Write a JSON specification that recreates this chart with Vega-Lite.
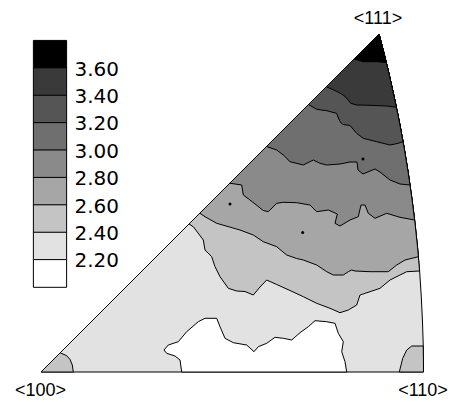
{
  "$schema": "https://vega.github.io/schema/vega-lite/v6.json",
  "width": 451,
  "height": 406,
  "padding": 0,
  "autosize": {"type": "none"},
  "background": "white",
  "config": {"view": {"stroke": null}},
  "datasets": {
    "poly": [
      {"p":"base","lvl":"2.20","i":0,"X":0,"Y":0},
      {"p":"base","lvl":"2.20","i":1,"X":382.5,"Y":0},
      {"p":"base","lvl":"2.20","i":2,"X":382.3,"Y":25},
      {"p":"base","lvl":"2.20","i":3,"X":381.5,"Y":50},
      {"p":"base","lvl":"2.20","i":4,"X":380.3,"Y":75},
      {"p":"base","lvl":"2.20","i":5,"X":378.7,"Y":100},
      {"p":"base","lvl":"2.20","i":6,"X":376.5,"Y":125},
      {"p":"base","lvl":"2.20","i":7,"X":373.9,"Y":150},
      {"p":"base","lvl":"2.20","i":8,"X":370.7,"Y":175},
      {"p":"base","lvl":"2.20","i":9,"X":367.1,"Y":200},
      {"p":"base","lvl":"2.20","i":10,"X":363,"Y":225},
      {"p":"base","lvl":"2.20","i":11,"X":358.4,"Y":250},
      {"p":"base","lvl":"2.20","i":12,"X":353.2,"Y":275},
      {"p":"base","lvl":"2.20","i":13,"X":347.6,"Y":300},
      {"p":"base","lvl":"2.20","i":14,"X":342.7,"Y":320},
      {"p":"base","lvl":"2.20","i":15,"X":338,"Y":338},
      {"p":"base","lvl":"2.20","i":16,"X":0,"Y":0},

      {"p":"c24","lvl":"2.40","i":0,"X":148,"Y":148},
      {"p":"c24","lvl":"2.40","i":1,"X":152.3,"Y":145.3},
      {"p":"c24","lvl":"2.40","i":2,"X":162.3,"Y":132},
      {"p":"c24","lvl":"2.40","i":3,"X":164,"Y":122},
      {"p":"c24","lvl":"2.40","i":4,"X":170.7,"Y":115.3},
      {"p":"c24","lvl":"2.40","i":5,"X":174,"Y":105.3},
      {"p":"c24","lvl":"2.40","i":6,"X":179,"Y":95.3},
      {"p":"c24","lvl":"2.40","i":7,"X":187.3,"Y":83.7},
      {"p":"c24","lvl":"2.40","i":8,"X":195.7,"Y":81},
      {"p":"c24","lvl":"2.40","i":9,"X":204,"Y":80.5},
      {"p":"c24","lvl":"2.40","i":10,"X":212.3,"Y":77},
      {"p":"c24","lvl":"2.40","i":11,"X":219,"Y":85},
      {"p":"c24","lvl":"2.40","i":12,"X":225.7,"Y":92},
      {"p":"c24","lvl":"2.40","i":13,"X":235.7,"Y":87.5},
      {"p":"c24","lvl":"2.40","i":14,"X":249,"Y":81.5},
      {"p":"c24","lvl":"2.40","i":15,"X":262.3,"Y":75.3},
      {"p":"c24","lvl":"2.40","i":16,"X":275.7,"Y":68.7},
      {"p":"c24","lvl":"2.40","i":17,"X":289,"Y":63.7},
      {"p":"c24","lvl":"2.40","i":18,"X":299,"Y":59.3},
      {"p":"c24","lvl":"2.40","i":19,"X":307.3,"Y":62},
      {"p":"c24","lvl":"2.40","i":20,"X":315.7,"Y":67},
      {"p":"c24","lvl":"2.40","i":21,"X":319,"Y":77},
      {"p":"c24","lvl":"2.40","i":22,"X":329,"Y":80.3},
      {"p":"c24","lvl":"2.40","i":23,"X":339,"Y":83.7},
      {"p":"c24","lvl":"2.40","i":24,"X":349,"Y":92},
      {"p":"c24","lvl":"2.40","i":25,"X":359,"Y":97},
      {"p":"c24","lvl":"2.40","i":26,"X":365.7,"Y":100.3},
      {"p":"c24","lvl":"2.40","i":27,"X":378.6,"Y":101},
      {"p":"c24","lvl":"2.40","i":28,"X":376.5,"Y":125},
      {"p":"c24","lvl":"2.40","i":29,"X":373.9,"Y":150},
      {"p":"c24","lvl":"2.40","i":30,"X":370.7,"Y":175},
      {"p":"c24","lvl":"2.40","i":31,"X":367.1,"Y":200},
      {"p":"c24","lvl":"2.40","i":32,"X":363,"Y":225},
      {"p":"c24","lvl":"2.40","i":33,"X":358.4,"Y":250},
      {"p":"c24","lvl":"2.40","i":34,"X":353.2,"Y":275},
      {"p":"c24","lvl":"2.40","i":35,"X":347.6,"Y":300},
      {"p":"c24","lvl":"2.40","i":36,"X":342.7,"Y":320},
      {"p":"c24","lvl":"2.40","i":37,"X":338,"Y":338},
      {"p":"c24","lvl":"2.40","i":38,"X":148,"Y":148},

      {"p":"c26","lvl":"2.60","i":0,"X":158.8,"Y":158.8},
      {"p":"c26","lvl":"2.60","i":1,"X":164,"Y":155.3},
      {"p":"c26","lvl":"2.60","i":2,"X":175.7,"Y":148.7},
      {"p":"c26","lvl":"2.60","i":3,"X":199,"Y":142},
      {"p":"c26","lvl":"2.60","i":4,"X":212.3,"Y":137},
      {"p":"c26","lvl":"2.60","i":5,"X":222.3,"Y":130.3},
      {"p":"c26","lvl":"2.60","i":6,"X":235.7,"Y":125.3},
      {"p":"c26","lvl":"2.60","i":7,"X":245.7,"Y":117},
      {"p":"c26","lvl":"2.60","i":8,"X":255.7,"Y":113.5},
      {"p":"c26","lvl":"2.60","i":9,"X":262.3,"Y":112},
      {"p":"c26","lvl":"2.60","i":10,"X":275.7,"Y":107},
      {"p":"c26","lvl":"2.60","i":11,"X":285.7,"Y":100.3},
      {"p":"c26","lvl":"2.60","i":12,"X":292.3,"Y":97},
      {"p":"c26","lvl":"2.60","i":13,"X":302.3,"Y":97},
      {"p":"c26","lvl":"2.60","i":14,"X":307.3,"Y":100.3},
      {"p":"c26","lvl":"2.60","i":15,"X":310.7,"Y":102},
      {"p":"c26","lvl":"2.60","i":16,"X":314,"Y":101},
      {"p":"c26","lvl":"2.60","i":17,"X":329,"Y":100.3},
      {"p":"c26","lvl":"2.60","i":18,"X":347.3,"Y":100.3},
      {"p":"c26","lvl":"2.60","i":19,"X":355.7,"Y":107},
      {"p":"c26","lvl":"2.60","i":20,"X":364,"Y":112},
      {"p":"c26","lvl":"2.60","i":21,"X":377.4,"Y":115.3},
      {"p":"c26","lvl":"2.60","i":22,"X":376.5,"Y":125},
      {"p":"c26","lvl":"2.60","i":23,"X":373.9,"Y":150},
      {"p":"c26","lvl":"2.60","i":24,"X":370.7,"Y":175},
      {"p":"c26","lvl":"2.60","i":25,"X":367.1,"Y":200},
      {"p":"c26","lvl":"2.60","i":26,"X":363,"Y":225},
      {"p":"c26","lvl":"2.60","i":27,"X":358.4,"Y":250},
      {"p":"c26","lvl":"2.60","i":28,"X":353.2,"Y":275},
      {"p":"c26","lvl":"2.60","i":29,"X":347.6,"Y":300},
      {"p":"c26","lvl":"2.60","i":30,"X":342.7,"Y":320},
      {"p":"c26","lvl":"2.60","i":31,"X":338,"Y":338},
      {"p":"c26","lvl":"2.60","i":32,"X":158.8,"Y":158.8},

      {"p":"c28","lvl":"2.80","i":0,"X":188.8,"Y":188.8},
      {"p":"c28","lvl":"2.80","i":1,"X":200.7,"Y":187},
      {"p":"c28","lvl":"2.80","i":2,"X":202.3,"Y":177},
      {"p":"c28","lvl":"2.80","i":3,"X":209,"Y":172},
      {"p":"c28","lvl":"2.80","i":4,"X":222.3,"Y":161.5},
      {"p":"c28","lvl":"2.80","i":5,"X":227.3,"Y":160.3},
      {"p":"c28","lvl":"2.80","i":6,"X":235.7,"Y":168.7},
      {"p":"c28","lvl":"2.80","i":7,"X":242.3,"Y":169.7},
      {"p":"c28","lvl":"2.80","i":8,"X":255.7,"Y":169.3},
      {"p":"c28","lvl":"2.80","i":9,"X":269,"Y":167},
      {"p":"c28","lvl":"2.80","i":10,"X":275.7,"Y":160.3},
      {"p":"c28","lvl":"2.80","i":11,"X":287.3,"Y":162},
      {"p":"c28","lvl":"2.80","i":12,"X":296.3,"Y":158},
      {"p":"c28","lvl":"2.80","i":13,"X":294,"Y":148.7},
      {"p":"c28","lvl":"2.80","i":14,"X":299,"Y":146},
      {"p":"c28","lvl":"2.80","i":15,"X":309,"Y":152},
      {"p":"c28","lvl":"2.80","i":16,"X":317.3,"Y":155.3},
      {"p":"c28","lvl":"2.80","i":17,"X":320,"Y":167},
      {"p":"c28","lvl":"2.80","i":18,"X":324,"Y":167},
      {"p":"c28","lvl":"2.80","i":19,"X":327.3,"Y":158.7},
      {"p":"c28","lvl":"2.80","i":20,"X":334,"Y":153.7},
      {"p":"c28","lvl":"2.80","i":21,"X":345.7,"Y":158.7},
      {"p":"c28","lvl":"2.80","i":22,"X":359,"Y":154.7},
      {"p":"c28","lvl":"2.80","i":23,"X":373.6,"Y":152},
      {"p":"c28","lvl":"2.80","i":24,"X":370.7,"Y":175},
      {"p":"c28","lvl":"2.80","i":25,"X":367.1,"Y":200},
      {"p":"c28","lvl":"2.80","i":26,"X":363,"Y":225},
      {"p":"c28","lvl":"2.80","i":27,"X":358.4,"Y":250},
      {"p":"c28","lvl":"2.80","i":28,"X":353.2,"Y":275},
      {"p":"c28","lvl":"2.80","i":29,"X":347.6,"Y":300},
      {"p":"c28","lvl":"2.80","i":30,"X":342.7,"Y":320},
      {"p":"c28","lvl":"2.80","i":31,"X":338,"Y":338},
      {"p":"c28","lvl":"2.80","i":32,"X":188.8,"Y":188.8},

      {"p":"c30","lvl":"3.00","i":0,"X":225.5,"Y":225.5},
      {"p":"c30","lvl":"3.00","i":1,"X":235.7,"Y":222},
      {"p":"c30","lvl":"3.00","i":2,"X":242.3,"Y":217},
      {"p":"c30","lvl":"3.00","i":3,"X":249,"Y":210.3},
      {"p":"c30","lvl":"3.00","i":4,"X":262.3,"Y":207},
      {"p":"c30","lvl":"3.00","i":5,"X":272.3,"Y":212},
      {"p":"c30","lvl":"3.00","i":6,"X":279,"Y":208.7},
      {"p":"c30","lvl":"3.00","i":7,"X":285.7,"Y":207},
      {"p":"c30","lvl":"3.00","i":8,"X":299,"Y":208},
      {"p":"c30","lvl":"3.00","i":9,"X":309,"Y":210},
      {"p":"c30","lvl":"3.00","i":10,"X":316,"Y":210},
      {"p":"c30","lvl":"3.00","i":11,"X":317,"Y":202},
      {"p":"c30","lvl":"3.00","i":12,"X":322,"Y":198},
      {"p":"c30","lvl":"3.00","i":13,"X":334,"Y":203},
      {"p":"c30","lvl":"3.00","i":14,"X":339,"Y":200},
      {"p":"c30","lvl":"3.00","i":15,"X":349,"Y":192},
      {"p":"c30","lvl":"3.00","i":16,"X":359,"Y":188},
      {"p":"c30","lvl":"3.00","i":17,"X":369,"Y":187},
      {"p":"c30","lvl":"3.00","i":18,"X":367.1,"Y":200},
      {"p":"c30","lvl":"3.00","i":19,"X":363,"Y":225},
      {"p":"c30","lvl":"3.00","i":20,"X":358.4,"Y":250},
      {"p":"c30","lvl":"3.00","i":21,"X":353.2,"Y":275},
      {"p":"c30","lvl":"3.00","i":22,"X":347.6,"Y":300},
      {"p":"c30","lvl":"3.00","i":23,"X":342.7,"Y":320},
      {"p":"c30","lvl":"3.00","i":24,"X":338,"Y":338},
      {"p":"c30","lvl":"3.00","i":25,"X":225.5,"Y":225.5},

      {"p":"c32","lvl":"3.20","i":0,"X":267.5,"Y":267.5},
      {"p":"c32","lvl":"3.20","i":1,"X":275.7,"Y":262.7},
      {"p":"c32","lvl":"3.20","i":2,"X":285.7,"Y":261.3},
      {"p":"c32","lvl":"3.20","i":3,"X":295.5,"Y":258.7},
      {"p":"c32","lvl":"3.20","i":4,"X":299,"Y":250.3},
      {"p":"c32","lvl":"3.20","i":5,"X":302,"Y":247.5},
      {"p":"c32","lvl":"3.20","i":6,"X":309,"Y":246.5},
      {"p":"c32","lvl":"3.20","i":7,"X":315.7,"Y":238.7},
      {"p":"c32","lvl":"3.20","i":8,"X":322.3,"Y":233.7},
      {"p":"c32","lvl":"3.20","i":9,"X":335.7,"Y":230.3},
      {"p":"c32","lvl":"3.20","i":10,"X":349,"Y":227},
      {"p":"c32","lvl":"3.20","i":11,"X":357.3,"Y":228.7},
      {"p":"c32","lvl":"3.20","i":12,"X":362,"Y":230.3},
      {"p":"c32","lvl":"3.20","i":13,"X":358.4,"Y":250},
      {"p":"c32","lvl":"3.20","i":14,"X":353.2,"Y":275},
      {"p":"c32","lvl":"3.20","i":15,"X":347.6,"Y":300},
      {"p":"c32","lvl":"3.20","i":16,"X":342.7,"Y":320},
      {"p":"c32","lvl":"3.20","i":17,"X":338,"Y":338},
      {"p":"c32","lvl":"3.20","i":18,"X":267.5,"Y":267.5},

      {"p":"c34","lvl":"3.40","i":0,"X":285.3,"Y":285.3},
      {"p":"c34","lvl":"3.40","i":1,"X":289,"Y":283.7},
      {"p":"c34","lvl":"3.40","i":2,"X":296.3,"Y":280.3},
      {"p":"c34","lvl":"3.40","i":3,"X":302.3,"Y":277},
      {"p":"c34","lvl":"3.40","i":4,"X":307.3,"Y":272},
      {"p":"c34","lvl":"3.40","i":5,"X":309.7,"Y":268.7},
      {"p":"c34","lvl":"3.40","i":6,"X":315.7,"Y":267},
      {"p":"c34","lvl":"3.40","i":7,"X":329,"Y":266.7},
      {"p":"c34","lvl":"3.40","i":8,"X":345.7,"Y":266},
      {"p":"c34","lvl":"3.40","i":9,"X":355.4,"Y":264.7},
      {"p":"c34","lvl":"3.40","i":10,"X":353.2,"Y":275},
      {"p":"c34","lvl":"3.40","i":11,"X":347.6,"Y":300},
      {"p":"c34","lvl":"3.40","i":12,"X":342.7,"Y":320},
      {"p":"c34","lvl":"3.40","i":13,"X":338,"Y":338},
      {"p":"c34","lvl":"3.40","i":14,"X":285.3,"Y":285.3},

      {"p":"c36","lvl":"3.60","i":0,"X":313,"Y":313},
      {"p":"c36","lvl":"3.60","i":1,"X":322.3,"Y":310.3},
      {"p":"c36","lvl":"3.60","i":2,"X":335.7,"Y":310.3},
      {"p":"c36","lvl":"3.60","i":3,"X":345.3,"Y":309.5},
      {"p":"c36","lvl":"3.60","i":4,"X":342.7,"Y":320},
      {"p":"c36","lvl":"3.60","i":5,"X":338,"Y":338},
      {"p":"c36","lvl":"3.60","i":6,"X":313,"Y":313},

      {"p":"isl","lvl":"<2.20","i":0,"X":140.7,"Y":0},
      {"p":"isl","lvl":"<2.20","i":1,"X":139,"Y":12},
      {"p":"isl","lvl":"<2.20","i":2,"X":134,"Y":16},
      {"p":"isl","lvl":"<2.20","i":3,"X":125.7,"Y":18.7},
      {"p":"isl","lvl":"<2.20","i":4,"X":123,"Y":22},
      {"p":"isl","lvl":"<2.20","i":5,"X":127.3,"Y":27},
      {"p":"isl","lvl":"<2.20","i":6,"X":137.3,"Y":30.3},
      {"p":"isl","lvl":"<2.20","i":7,"X":145.7,"Y":40.3},
      {"p":"isl","lvl":"<2.20","i":8,"X":157.3,"Y":50.3},
      {"p":"isl","lvl":"<2.20","i":9,"X":164,"Y":53.7},
      {"p":"isl","lvl":"<2.20","i":10,"X":175.7,"Y":53.7},
      {"p":"isl","lvl":"<2.20","i":11,"X":179,"Y":45.3},
      {"p":"isl","lvl":"<2.20","i":12,"X":184,"Y":33.7},
      {"p":"isl","lvl":"<2.20","i":13,"X":192.3,"Y":29.3},
      {"p":"isl","lvl":"<2.20","i":14,"X":205.7,"Y":27},
      {"p":"isl","lvl":"<2.20","i":15,"X":213,"Y":20.3},
      {"p":"isl","lvl":"<2.20","i":16,"X":217.3,"Y":25.3},
      {"p":"isl","lvl":"<2.20","i":17,"X":225.7,"Y":28.7},
      {"p":"isl","lvl":"<2.20","i":18,"X":234,"Y":34.7},
      {"p":"isl","lvl":"<2.20","i":19,"X":242.3,"Y":33.7},
      {"p":"isl","lvl":"<2.20","i":20,"X":250.7,"Y":32},
      {"p":"isl","lvl":"<2.20","i":21,"X":259,"Y":39.3},
      {"p":"isl","lvl":"<2.20","i":22,"X":267.3,"Y":45.3},
      {"p":"isl","lvl":"<2.20","i":23,"X":274,"Y":51.3},
      {"p":"isl","lvl":"<2.20","i":24,"X":285.7,"Y":50.3},
      {"p":"isl","lvl":"<2.20","i":25,"X":294,"Y":48.7},
      {"p":"isl","lvl":"<2.20","i":26,"X":297.3,"Y":38.7},
      {"p":"isl","lvl":"<2.20","i":27,"X":302.3,"Y":30.3},
      {"p":"isl","lvl":"<2.20","i":28,"X":300.7,"Y":20.3},
      {"p":"isl","lvl":"<2.20","i":29,"X":304,"Y":10.3},
      {"p":"isl","lvl":"<2.20","i":30,"X":305.7,"Y":0},
      {"p":"isl","lvl":"<2.20","i":31,"X":140.7,"Y":0},

      {"p":"pL","lvl":"2.40","i":0,"X":0,"Y":0},
      {"p":"pL","lvl":"2.40","i":1,"X":19.2,"Y":19.2},
      {"p":"pL","lvl":"2.40","i":2,"X":25.7,"Y":16.3},
      {"p":"pL","lvl":"2.40","i":3,"X":29,"Y":12.7},
      {"p":"pL","lvl":"2.40","i":4,"X":31.3,"Y":7},
      {"p":"pL","lvl":"2.40","i":5,"X":32.3,"Y":0},
      {"p":"pL","lvl":"2.40","i":6,"X":0,"Y":0},

      {"p":"pR","lvl":"2.40","i":0,"X":358.3,"Y":0},
      {"p":"pR","lvl":"2.40","i":1,"X":361.7,"Y":13.7},
      {"p":"pR","lvl":"2.40","i":2,"X":365.7,"Y":22},
      {"p":"pR","lvl":"2.40","i":3,"X":370.7,"Y":26},
      {"p":"pR","lvl":"2.40","i":4,"X":382.2,"Y":26},
      {"p":"pR","lvl":"2.40","i":5,"X":382.4,"Y":13},
      {"p":"pR","lvl":"2.40","i":6,"X":382.5,"Y":0},
      {"p":"pR","lvl":"2.40","i":7,"X":358.3,"Y":0}
    ],
    "dots": [
      {"X":322,"Y":213},
      {"X":189,"Y":168},
      {"X":261.7,"Y":139.5}
    ],
    "poles": [
      {"t":"<100>","X":0,"Y":0,"side":"bottom"},
      {"t":"<110>","X":382.5,"Y":0,"side":"bottom"},
      {"t":"<111>","X":338,"Y":338,"side":"top"}
    ]
  },
  "layer": [
    {
      "data": {"name": "poly"},
      "mark": {"type": "line", "filled": true, "stroke": "black", "strokeWidth": 1, "strokeJoin": "round"},
      "encoding": {
        "x": {"field": "X", "type": "quantitative", "scale": {"domain": [-41, 410], "nice": false, "zero": false}, "axis": null},
        "y": {"field": "Y", "type": "quantitative", "scale": {"domain": [-34, 372], "nice": false, "zero": false}, "axis": null},
        "order": {"field": "i", "type": "quantitative"},
        "detail": {"field": "p", "type": "nominal"},
        "fill": {
          "field": "lvl", "type": "nominal",
          "scale": {
            "domain": ["3.60","3.40","3.20","3.00","2.80","2.60","2.40","2.20","<2.20"],
            "range": ["#000000","#3a3a3a","#555555","#6f6f6f","#8a8a8a","#a6a6a6","#c4c4c4","#e2e2e2","#ffffff"]
          },
          "legend": {
            "orient": "none", "legendX": 35.5, "legendY": 55, "title": null, "padding": 0,
            "symbolType": "M-1.2,-2.1H1.2V-0.1H-1.2Z", "symbolSize": 767,
            "symbolStrokeColor": "black", "symbolStrokeWidth": 1, "symbolOpacity": 1,
            "labelFont": "DejaVu Sans", "labelFontSize": 20, "labelColor": "black",
            "labelBaseline": "middle", "labelOffset": 10, "rowPadding": -14.6,
            "labelExpr": "datum.label == '<2.20' ? '' : datum.label"
          }
        }
      }
    },
    {
      "data": {"name": "dots"},
      "mark": {"type": "point", "filled": true, "color": "black", "size": 9, "opacity": 1},
      "encoding": {
        "x": {"field": "X", "type": "quantitative"},
        "y": {"field": "Y", "type": "quantitative"}
      }
    },
    {
      "data": {"name": "poles"},
      "transform": [{"filter": "datum.side == 'bottom'"}],
      "mark": {"type": "text", "dy": 23.5, "dx": -0.5, "baseline": "alphabetic", "align": "center", "font": "Liberation Sans", "fontSize": 18, "color": "black"},
      "encoding": {
        "x": {"field": "X", "type": "quantitative"},
        "y": {"field": "Y", "type": "quantitative"},
        "text": {"field": "t"}
      }
    },
    {
      "data": {"name": "poles"},
      "transform": [{"filter": "datum.side == 'top'"}],
      "mark": {"type": "text", "dy": -10, "dx": -1, "baseline": "alphabetic", "align": "center", "font": "Liberation Sans", "fontSize": 18, "color": "black"},
      "encoding": {
        "x": {"field": "X", "type": "quantitative"},
        "y": {"field": "Y", "type": "quantitative"},
        "text": {"field": "t"}
      }
    }
  ]
}
